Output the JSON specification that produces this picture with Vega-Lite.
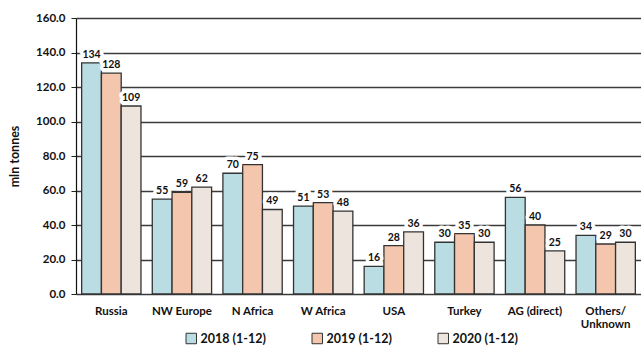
{
  "$schema": "https://vega.github.io/schema/vega-lite/v6.json",
  "width": 565,
  "height": 276,
  "autosize": {"type": "none"},
  "padding": {"left": 76, "top": 18, "right": 0, "bottom": 56},
  "background": "white",
  "config": {
    "view": {"stroke": null},
    "font": "Lato",
    "text": {"font": "Lato"}
  },
  "data": {
    "values": [
      {"region": "Russia", "period": "2018 (1-12)", "value": 134},
      {"region": "Russia", "period": "2019 (1-12)", "value": 128},
      {"region": "Russia", "period": "2020 (1-12)", "value": 109},
      {"region": "NW Europe", "period": "2018 (1-12)", "value": 55},
      {"region": "NW Europe", "period": "2019 (1-12)", "value": 59},
      {"region": "NW Europe", "period": "2020 (1-12)", "value": 62},
      {"region": "N Africa", "period": "2018 (1-12)", "value": 70},
      {"region": "N Africa", "period": "2019 (1-12)", "value": 75},
      {"region": "N Africa", "period": "2020 (1-12)", "value": 49},
      {"region": "W Africa", "period": "2018 (1-12)", "value": 51},
      {"region": "W Africa", "period": "2019 (1-12)", "value": 53},
      {"region": "W Africa", "period": "2020 (1-12)", "value": 48},
      {"region": "USA", "period": "2018 (1-12)", "value": 16},
      {"region": "USA", "period": "2019 (1-12)", "value": 28},
      {"region": "USA", "period": "2020 (1-12)", "value": 36},
      {"region": "Turkey", "period": "2018 (1-12)", "value": 30},
      {"region": "Turkey", "period": "2019 (1-12)", "value": 35},
      {"region": "Turkey", "period": "2020 (1-12)", "value": 30},
      {"region": "AG (direct)", "period": "2018 (1-12)", "value": 56},
      {"region": "AG (direct)", "period": "2019 (1-12)", "value": 40},
      {"region": "AG (direct)", "period": "2020 (1-12)", "value": 25},
      {"region": "Others/ Unknown", "period": "2018 (1-12)", "value": 34},
      {"region": "Others/ Unknown", "period": "2019 (1-12)", "value": 29},
      {"region": "Others/ Unknown", "period": "2020 (1-12)", "value": 30}
    ]
  },
  "encoding": {
    "x": {
      "field": "region",
      "type": "nominal",
      "sort": null,
      "scale": {"paddingInner": 0.16, "paddingOuter": 0.08},
      "axis": {
        "title": null,
        "labelAngle": 0,
        "ticks": false,
        "domain": false,
        "labelFont": "Lato",
        "labelFontWeight": "bold",
        "labelFontSize": 11.5,
        "labelColor": "#111",
        "labelPadding": 11,
        "labelExpr": "datum.label == 'Others/ Unknown' ? ['Others/', 'Unknown'] : datum.label"
      }
    },
    "xOffset": {"field": "period", "type": "nominal", "sort": null},
    "y": {
      "field": "value",
      "type": "quantitative",
      "scale": {"domain": [0, 160], "nice": false, "zero": true},
      "axis": {
        "tickCount": 8,
        "labelOverlap": false,
        "format": ".1f",
        "title": "mln tonnes",
        "titleFont": "Lato",
        "titleFontWeight": "bold",
        "titleFontSize": 12.5,
        "titleColor": "#111",
        "titlePadding": 14,
        "labelFont": "Lato",
        "labelFontWeight": "bold",
        "labelFontSize": 11.5,
        "labelColor": "#111",
        "labelPadding": 6,
        "tickSize": 5,
        "tickColor": "#222",
        "domainColor": "#111",
        "domainWidth": 1.2,
        "grid": true,
        "gridColor": "#3a3a3a",
        "gridWidth": 1.5
      }
    }
  },
  "layer": [
    {
      "mark": {"type": "bar", "stroke": "#333333", "strokeWidth": 1.3},
      "encoding": {
        "color": {
          "field": "period",
          "type": "nominal",
          "sort": null,
          "scale": {"range": ["#b9dde3", "#f3c6ad", "#ece4dd"]},
          "legend": {
            "title": null,
            "orient": "none",
            "legendX": 109,
            "legendY": 314,
            "direction": "horizontal",
            "symbolType": "square",
            "symbolSize": 110,
            "symbolStrokeColor": "#333",
            "symbolStrokeWidth": 1,
            "labelFont": "Lato",
            "labelFontWeight": "bold",
            "labelFontSize": 12.5,
            "labelColor": "#111",
            "labelOffset": 3,
            "columnPadding": 44
          }
        }
      }
    },
    {
      "mark": {"type": "text", "dy": -8, "fontWeight": "bold", "fontSize": 10.5, "font": "Lato", "stroke": "white", "strokeWidth": 7, "strokeJoin": "round"},
      "encoding": {
        "text": {"field": "value", "type": "quantitative"}
      }
    },
    {
      "mark": {"type": "text", "dy": -8, "fontWeight": "bold", "fontSize": 10.5, "font": "Lato", "color": "#111"},
      "encoding": {
        "text": {"field": "value", "type": "quantitative"}
      }
    }
  ]
}
